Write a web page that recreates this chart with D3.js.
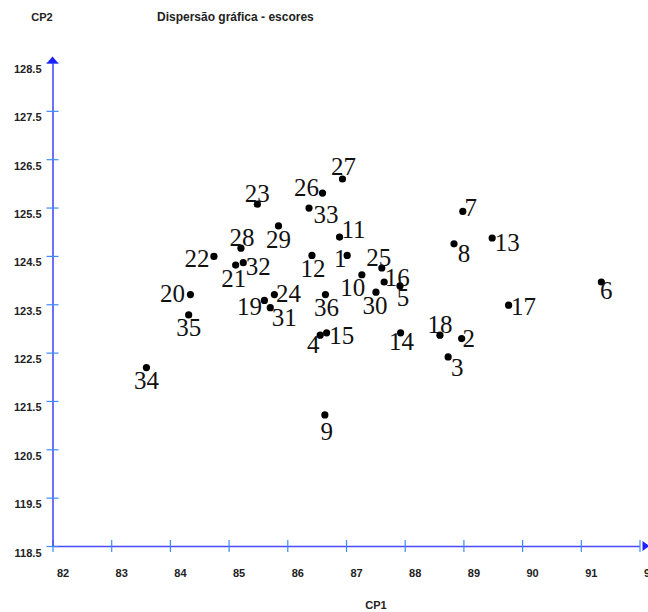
<!DOCTYPE html>
<html>
<head>
<meta charset="utf-8">
<script src="https://cdn.jsdelivr.net/npm/d3@7/dist/d3.min.js"></script>
<style>
  body { margin: 0; background: #fff; }
  text.lbl { font-family: "Liberation Sans", Arial, sans-serif; font-size: 11px; font-weight: bold; fill: #222; }
  text.num { font-family: "Liberation Serif", "Times New Roman", serif; font-size: 25px; fill: #111; }
</style>
</head>
<body>
<div id="chart"></div>
<script>
"use strict";

//sample ids and their scores on CP1 / CP2
var ids = [1, 2, 3, 4, 5, 6, 7, 8, 9, 10, 11, 12, 13, 14, 15, 16, 17, 18,
           19, 20, 21, 22, 23, 24, 25, 26, 27, 28, 29, 30, 31, 32, 33, 34, 35, 36];
var cp1 = [87.02, 88.97, 88.74, 86.56, 87.92, 91.35, 88.99, 88.84, 86.64, 87.27, 86.89, 86.42,
           89.49, 87.93, 86.67, 87.65, 89.77, 88.60, 85.61, 84.35, 85.12, 84.75, 85.49, 85.78,
           87.61, 86.60, 86.94, 85.21, 85.85, 87.51, 85.71, 85.25, 86.37, 83.60, 84.32, 86.65];
var cp2 = [124.51, 122.79, 122.41, 122.86, 123.88, 123.96, 125.42, 124.75, 121.21, 124.11, 124.89, 124.51,
           124.87, 122.91, 122.91, 123.96, 123.48, 122.86, 123.58, 123.70, 124.31, 124.49, 125.57, 123.70,
           124.25, 125.80, 126.09, 124.66, 125.12, 123.75, 123.43, 124.36, 125.49, 122.19, 123.28, 123.70];

//axis ticks
var xTicks = [82, 83, 84, 85, 86, 87, 88, 89, 90, 91, 92];
var yTicks = [118.5, 119.5, 120.5, 121.5, 122.5, 123.5, 124.5, 125.5, 126.5, 127.5, 128.5];

//where each number sits relative to its dot (pixels)
var labelShift = [[-7, 12], [7, 8], [9, 19], [-7, 18], [3, 20], [5, 17], [8, 5], [10, 18], [2, 25],
                  [-9, 21], [14, 1], [1, 22], [15, 13], [1, 17], [15, 11], [13, 4], [15, 10], [0, -2],
                  [-15, 15], [-18, 7], [-2, 22], [-17, 11], [0, -2], [14, 7], [-3, -2], [-16, 3],
                  [1, -4], [1, -2], [0, 22], [-1, 22], [14, 18], [15, 12], [17, 15], [0, 21], [0, 21], [1, 21]];

var data = ids.map(function (d, i) {
    return {id: d, x: cp1[i], y: cp2[i], dx: labelShift[i][0], dy: labelShift[i][1]};
});

var width = 648, height = 612;
var x0 = 52.5, y0 = 546;

var svg = d3.select("#chart").append("svg")
        .attr("width", width)
        .attr("height", height);

var x = d3.scaleLinear().domain([82, 92]).range([x0, 639.5]);
var y = d3.scaleLinear().domain([118.5, 128.5]).range([y0, 62.5]);

//titles
svg.append("text").attr("class", "lbl").attr("x", 42).attr("y", 21)
        .attr("text-anchor", "middle").text("CP2");
svg.append("text").attr("class", "lbl").attr("x", 157).attr("y", 21)
        .style("font-size", "12px")
        .text("Dispersão gráfica - escores");
svg.append("text").attr("class", "lbl").attr("x", 376).attr("y", 609)
        .attr("text-anchor", "middle").text("CP1");

//x axis
var xAxis = svg.append("g")
        .attr("transform", "translate(0," + y0 + ")")
        .call(d3.axisBottom(x).tickValues(xTicks).tickSize(5).tickSizeOuter(0).tickFormat(d3.format("d")));
xAxis.select(".domain").attr("stroke", "#4a4aff").attr("stroke-width", 1.6);
xAxis.selectAll(".tick line").attr("stroke", "#3d8cff").attr("stroke-width", 1.2)
        .attr("y1", -6).attr("y2", 6);
xAxis.selectAll(".tick text").attr("class", "lbl").attr("dy", 0)
        .attr("y", 31).attr("dx", 10).attr("fill", null);

//y axis
var yAxis = svg.append("g")
        .attr("transform", "translate(" + x0 + ",0)")
        .call(d3.axisLeft(y).tickValues(yTicks).tickSize(5).tickSizeOuter(0).tickFormat(d3.format(".1f")));
yAxis.select(".domain").attr("stroke", "#4a4aff").attr("stroke-width", 1.6);
yAxis.selectAll(".tick line").attr("stroke", "#3d8cff").attr("stroke-width", 1.2)
        .attr("x1", -6).attr("x2", 6);
yAxis.selectAll(".tick text").attr("class", "lbl").attr("x", -11)
        .attr("dy", 10).attr("fill", null);

//arrow heads
svg.append("path")
        .attr("d", "M" + (x(92) + 3) + "," + (y0 - 5) + "L" + (x(92) + 10) + "," + y0 + "L" + (x(92) + 3) + "," + (y0 + 5) + "Z")
        .attr("fill", "#1f1fff");
svg.append("path")
        .attr("d", "M" + (x0 - 6) + "," + (y(128.5) + 1) + "L" + x0 + "," + (y(128.5) - 6) + "L" + (x0 + 6) + "," + (y(128.5) + 1) + "Z")
        .attr("fill", "#1f1fff");

//points
svg.append("g").selectAll("circle")
        .data(data)
        .enter()
        .append("circle")
        .attr("cx", function (d) { return x(d.x); })
        .attr("cy", function (d) { return y(d.y); })
        .attr("r", 3.6)
        .attr("fill", "#000");

svg.append("g").selectAll("text")
        .data(data)
        .enter()
        .append("text")
        .attr("class", "num")
        .attr("text-anchor", "middle")
        .attr("x", function (d) { return x(d.x) + d.dx; })
        .attr("y", function (d) { return y(d.y) + d.dy; })
        .text(function (d) { return d.id; });
</script>
</body>
</html>
